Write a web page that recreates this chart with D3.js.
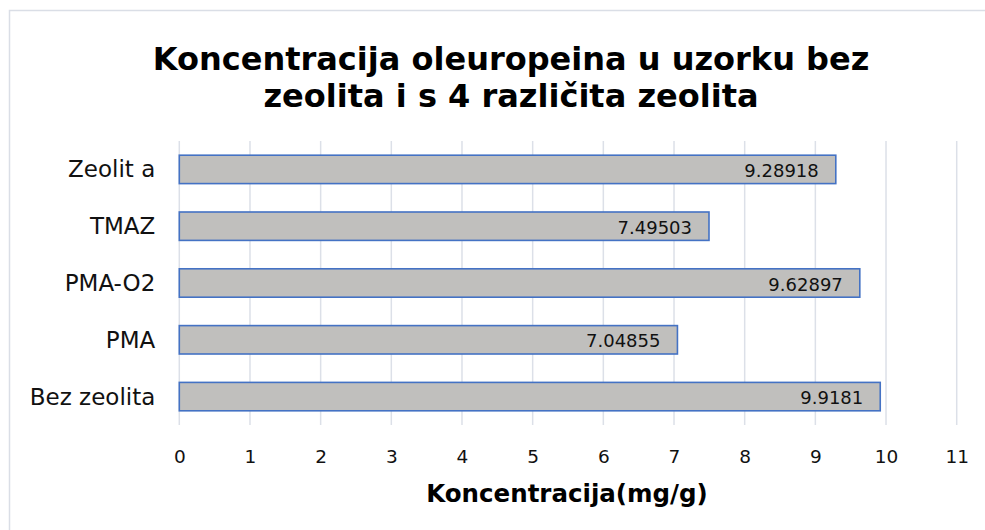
<!DOCTYPE html>
<html>
<head>
<meta charset="utf-8">
<script src="https://cdn.jsdelivr.net/npm/d3@7"></script>
<style>
  body { margin: 0; background: #fff; }
  svg { display: block; font-family: 'DejaVu Sans', Verdana, sans-serif; }
</style>
</head>
<body>
<svg id="chart"></svg>
<script>
const w = 985;
const h = 530;

const categories = ['Zeolit a', 'TMAZ', 'PMA-O2', 'PMA', 'Bez zeolita'];
const values = [9.28918, 7.49503, 9.62897, 7.04855, 9.9181];
const valueLabels = ['9.28918', '7.49503', '9.62897', '7.04855', '9.9181'];
const xTicks = [0, 1, 2, 3, 4, 5, 6, 7, 8, 9, 10, 11];
const titleLines = ['Koncentracija oleuropeina u uzorku bez', 'zeolita i s 4 različita zeolita'];
const xTitle = 'Koncentracija(mg/g)';

const plot = { left: 179.3, right: 956.7, top: 141, bottom: 425 };

let canvas = d3.select('#chart').attr('width', w).attr('height', h);

// chart frame
canvas.append('rect')
  .attr('x', 9.5).attr('y', 10.5)
  .attr('width', 1100).attr('height', 600)
  .attr('fill', '#fff')
  .attr('stroke', '#dadee6')
  .attr('stroke-width', 1.5);

let xScale = d3.scaleLinear().domain([0, 11]).range([plot.left, plot.right]);
let yScale = d3.scaleBand().domain(categories).range([plot.top, plot.bottom])
  .paddingInner(0.5).paddingOuter(0.25);

// gridlines
canvas.append('g')
  .selectAll('line')
  .data(xTicks)
  .enter()
  .append('line')
  .attr('x1', d => xScale(d)).attr('x2', d => xScale(d))
  .attr('y1', plot.top).attr('y2', plot.bottom)
  .attr('stroke', '#dce0e8')
  .attr('stroke-width', 1.5);

// bars
canvas.append('g')
  .selectAll('rect')
  .data(values)
  .enter()
  .append('rect')
  .attr('x', xScale(0))
  .attr('y', (d, i) => yScale(categories[i]))
  .attr('width', d => xScale(d) - xScale(0))
  .attr('height', yScale.bandwidth())
  .attr('fill', '#c0bfbd')
  .attr('stroke', '#4472c4')
  .attr('stroke-width', 1.6);

// value labels
canvas.append('g')
  .selectAll('text')
  .data(values)
  .enter()
  .append('text')
  .attr('x', d => xScale(d) - 17)
  .attr('y', (d, i) => yScale(categories[i]) + yScale.bandwidth() / 2 + 7.5)
  .attr('text-anchor', 'end')
  .attr('font-size', '18px')
  .attr('fill', '#111')
  .text((d, i) => valueLabels[i]);

// category axis
let yAxis = d3.axisLeft(yScale).tickSize(0).tickPadding(24);
let yg = canvas.append('g')
  .attr('transform', `translate(${plot.left},0)`)
  .call(yAxis);
yg.select('.domain').remove();
yg.selectAll('text')
  .attr('font-size', '23px')
  .attr('font-family', "'DejaVu Sans', Verdana, sans-serif")
  .attr('fill', '#111')
  .attr('dy', '0.35em');

// value axis
let xAxis = d3.axisBottom(xScale).tickValues(xTicks).tickSize(0).tickPadding(25);
let xg = canvas.append('g')
  .attr('transform', `translate(0,${plot.bottom})`)
  .call(xAxis);
xg.select('.domain').remove();
xg.selectAll('text')
  .attr('font-size', '18.5px')
  .attr('font-family', "'DejaVu Sans', Verdana, sans-serif")
  .attr('fill', '#111');

// titles
canvas.append('g')
  .selectAll('text')
  .data(titleLines)
  .enter()
  .append('text')
  .attr('x', 511)
  .attr('y', (d, i) => 70 + i * 37)
  .attr('text-anchor', 'middle')
  .attr('font-size', '32px')
  .attr('font-weight', 'bold')
  .attr('fill', '#000')
  .text(d => d);

canvas.append('text')
  .attr('x', 567)
  .attr('y', 502)
  .attr('text-anchor', 'middle')
  .attr('font-size', '24.5px')
  .attr('font-weight', 'bold')
  .attr('fill', '#000')
  .text(xTitle);
</script>
</body>
</html>
